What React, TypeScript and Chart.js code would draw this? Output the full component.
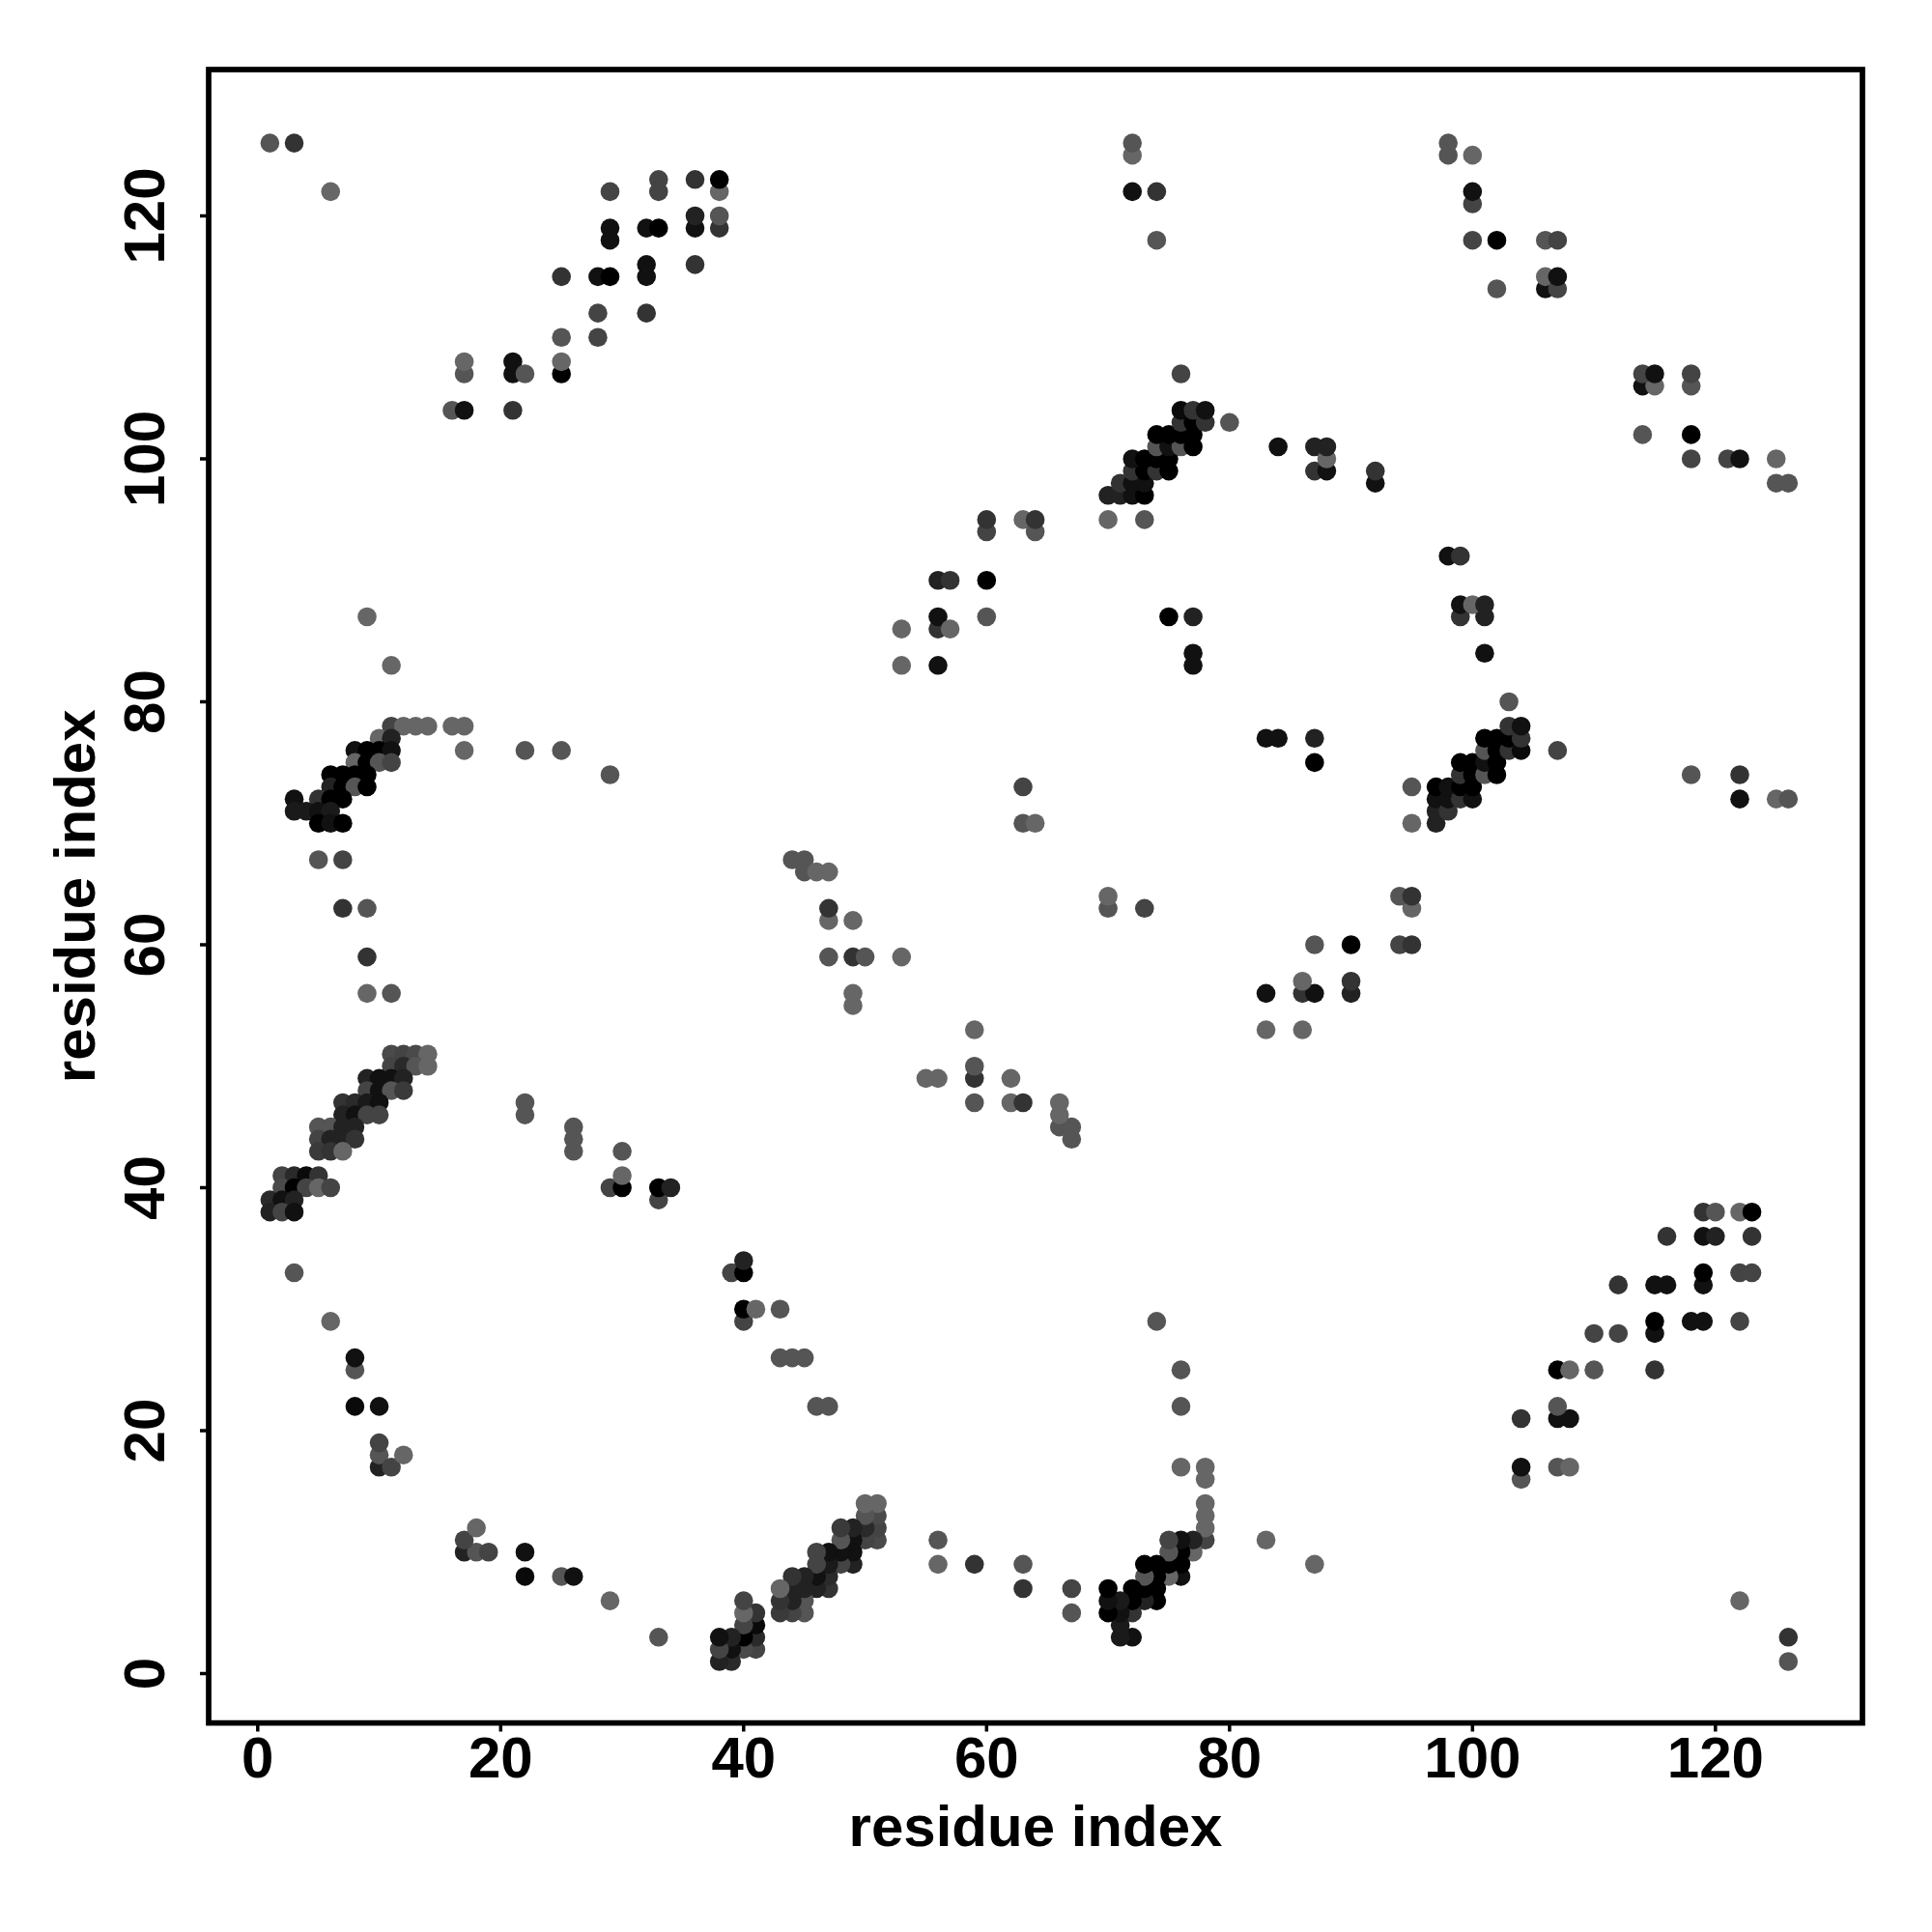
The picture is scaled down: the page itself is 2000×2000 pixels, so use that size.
import React, { useEffect, useRef } from "react";
import { Chart, registerables } from "chart.js";

Chart.register(...registerables);

const tickValues = [0, 20, 40, 60, 80, 100, 120];
const axisLabel = "residue index";

// Each contact: [residue i, residue j, grey level]; the map is symmetric, so each is also drawn as (j, i).
const sheetA: number[][] = [
  [11,51,0x4a],[12,51,0x44],[13,51,0x4a],[14,51,0x66],[11,50,0x44],[12,50,0x2a],[13,50,0x55],[14,50,0x66],
  [9,49,0x22],[10,49,0x11],[11,49,0x11],[12,49,0x22],[9,48,0x44],[10,48,0x11],[11,48,0x55],[12,48,0x3a],
  [7,47,0x33],[8,47,0x2a],[9,47,0x1a],[10,47,0x11],[7,46,0x22],[8,46,0x11],[9,46,0x44],[10,46,0x44],
  [5,45,0x55],[6,45,0x55],[7,45,0x22],[8,45,0x22],[5,44,0x44],[6,44,0x22],[7,44,0x22],[8,44,0x33],
  [5,43,0x3a],[6,43,0x33],[7,43,0x66],[2,41,0x44],[3,41,0x2a],[4,41,0x0a],[5,41,0x33],
  [2,40,0x4a],[3,40,0x00],[4,40,0x44],[5,40,0x66],[6,40,0x44],[1,39,0x2a],[2,39,0x11],[3,39,0x22],
  [1,38,0x22],[2,38,0x44],[3,38,0x11],
];
const sheetB: number[][] = [
  [11,83,0x66],[11,78,0x44],[12,78,0x66],[13,78,0x66],[14,78,0x66],[16,78,0x66],[17,78,0x66],
  [10,77,0x66],[11,77,0x22],[8,76,0x11],[9,76,0x00],[10,76,0x00],[11,76,0x11],[17,76,0x66],
  [8,75,0x66],[9,75,0x00],[10,75,0x55],[11,75,0x44],[6,74,0x00],[7,74,0x00],[8,74,0x00],[9,74,0x00],
  [6,73,0x22],[7,73,0x00],[8,73,0x55],[9,73,0x00],[3,72,0x11],[5,72,0x33],[6,72,0x00],[7,72,0x00],
  [3,71,0x1a],[4,71,0x1a],[5,71,0x11],[6,71,0x1a],[5,70,0x00],[6,70,0x11],[7,70,0x00],[5,67,0x55],[7,67,0x44],
];
const sheetC: number[][] = [
  [70,97,0x22],[71,97,0x22],[72,97,0x11],[73,97,0x00],[71,98,0x33],[72,98,0x11],[73,98,0x11],
  [72,99,0x33],[73,99,0x00],[74,99,0x33],[75,99,0x00],[72,100,0x11],[73,100,0x00],[74,100,0x00],[75,100,0x00],
  [74,101,0x55],[75,101,0x11],[76,101,0x55],[77,101,0x00],[74,102,0x00],[75,102,0x00],[76,102,0x00],[77,102,0x00],
  [76,103,0x33],[77,103,0x00],[78,103,0x33],[76,104,0x0a],[77,104,0x33],[78,104,0x11],[80,103,0x55],[76,107,0x44],
  [70,95,0x66],[73,95,0x55],
];
const sparseLow: number[][] = [
  [1,126,0x55],[3,126,0x33],[3,33,0x55],[6,29,0x66],[6,122,0x66],[7,63,0x33],[8,22,0x0a],[8,25,0x55],[8,26,0x11],
  [9,56,0x66],[9,59,0x33],[9,63,0x55],[9,87,0x66],[10,17,0x22],[10,18,0x55],[10,19,0x44],[10,22,0x11],[11,17,0x44],
  [11,56,0x55],[12,18,0x66],[16,104,0x55],[17,104,0x11],[17,107,0x55],[17,108,0x66],[21,104,0x33],[21,107,0x11],[21,108,0x11],
  [22,46,0x55],[22,47,0x55],[22,76,0x55],[22,107,0x55],[25,76,0x55],[25,107,0x00],[25,108,0x66],[25,110,0x55],[25,115,0x33],
  [26,43,0x55],[26,44,0x55],[26,45,0x55],[28,110,0x44],[28,112,0x44],[28,115,0x11],
];
const sparseMid: number[][] = [
  [29,40,0x44],[29,74,0x55],[29,115,0x00],[29,118,0x11],[29,119,0x11],[29,122,0x44],[30,40,0x00],[30,41,0x66],[30,43,0x55],
  [32,112,0x33],[32,115,0x11],[32,116,0x11],[32,119,0x11],[33,39,0x44],[33,40,0x00],[33,119,0x00],[33,122,0x44],[33,123,0x44],
  [34,40,0x22],[36,116,0x33],[36,119,0x11],[36,120,0x22],[36,123,0x33],[38,119,0x33],[38,120,0x55],[38,122,0x66],[38,123,0x00],
  [44,67,0x55],[45,66,0x55],[45,67,0x55],[46,66,0x66],[47,59,0x55],[47,62,0x66],[47,63,0x33],[47,66,0x66],
  [49,55,0x66],[49,56,0x66],[49,59,0x33],[49,62,0x66],[50,59,0x55],[53,59,0x66],[53,83,0x66],[53,86,0x66],
];
const sparseHigh: number[][] = [
  [56,83,0x11],[56,86,0x33],[56,87,0x11],[56,90,0x22],[57,86,0x66],[57,90,0x33],[60,87,0x55],[60,90,0x00],[60,94,0x44],[60,95,0x33],
  [63,95,0x66],[64,94,0x55],[64,95,0x33],[63,70,0x55],[63,73,0x44],[64,70,0x66],[72,122,0x11],[72,125,0x66],[72,126,0x55],
  [74,118,0x55],[74,122,0x33],[75,87,0x00],[77,83,0x11],[77,84,0x11],[77,87,0x22],[84,101,0x11],[87,99,0x33],[87,101,0x22],
  [88,99,0x11],[88,100,0x66],[88,101,0x22],[92,98,0x11],[92,99,0x33],[98,125,0x55],[98,126,0x55],[100,118,0x44],[100,121,0x44],
  [100,122,0x11],[100,125,0x66],[102,114,0x55],[102,118,0x00],[106,114,0x11],[106,115,0x66],[106,118,0x55],[107,114,0x44],
  [107,115,0x11],[107,118,0x44],
];

const contacts = [...sheetA, ...sheetB, ...sheetC, ...sparseLow, ...sparseMid, ...sparseHigh];

export default function App() {
  const ref = useRef<HTMLCanvasElement | null>(null);
  useEffect(() => {
    if (!ref.current) return;
    const pts: { x: number; y: number }[] = [];
    const colors: string[] = [];
    contacts.forEach(([i, j, g]) => {
      const c = `rgb(${g},${g},${g})`;
      pts.push({ x: i, y: j });
      colors.push(c);
      pts.push({ x: j, y: i });
      colors.push(c);
    });
    const font = { family: "'Liberation Sans'", size: 60, weight: "bold" as const };
    const chart = new Chart(ref.current, {
      type: "scatter",
      data: {
        datasets: [
          {
            data: pts,
            pointRadius: 9.8,
            pointBackgroundColor: colors,
            pointBorderWidth: 0,
            pointHoverRadius: 9.8,
          },
        ],
      },
      options: {
        animation: false,
        responsive: false,
        devicePixelRatio: 1,
        layout: { padding: { top: 72, right: 72, left: 0, bottom: 0 } },
        plugins: { legend: { display: false }, tooltip: { enabled: false } },
        scales: {
          x: {
            type: "linear",
            min: -4.04,
            max: 132.1,
            afterBuildTicks: (s: any) => {
              s.ticks = tickValues.map((value) => ({ value }));
            },
            afterFit: (s: any) => {
              s.height = 216.4;
            },
            grid: { display: false, drawTicks: false },
            border: { display: false },
            ticks: { color: "#000", font, padding: 4, maxRotation: 0, minRotation: 0, autoSkip: false },
            title: { display: true, text: axisLabel, color: "#000", font, padding: { top: 0, bottom: 70 } },
          },
          y: {
            type: "linear",
            min: -4.06,
            max: 132.05,
            afterBuildTicks: (s: any) => {
              s.ticks = tickValues.map((value) => ({ value }));
            },
            afterFit: (s: any) => {
              s.width = 216;
            },
            grid: { display: false, drawTicks: false },
            border: { display: false },
            ticks: { color: "#000", font, padding: 12, maxRotation: 90, minRotation: 90, autoSkip: false, crossAlign: "center" },
            title: { display: true, text: axisLabel, color: "#000", font, padding: { top: 45, bottom: 0 } },
          },
        },
      },
      plugins: [
        {
          id: "frame",
          afterDatasetsDraw(c: any) {
            const { ctx, chartArea: a, scales } = c;
            ctx.save();
            ctx.strokeStyle = "#000";
            ctx.lineWidth = 5.7;
            ctx.strokeRect(a.left, a.top, a.right - a.left, a.bottom - a.top);
            ctx.lineWidth = 3.5;
            ctx.beginPath();
            tickValues.forEach((v) => {
              const px = scales.x.getPixelForValue(v);
              ctx.moveTo(px, a.bottom);
              ctx.lineTo(px, a.bottom + 9);
              const py = scales.y.getPixelForValue(v);
              ctx.moveTo(a.left, py);
              ctx.lineTo(a.left - 9, py);
            });
            ctx.stroke();
            ctx.restore();
          },
        },
      ],
    } as any);
    return () => chart.destroy();
  }, []);
  return (
    <canvas
      ref={ref}
      width={2000}
      height={2000}
      style={{ position: "absolute", left: 0, top: 0, width: 2000, height: 2000, background: "#fff" }}
    />
  );
}
